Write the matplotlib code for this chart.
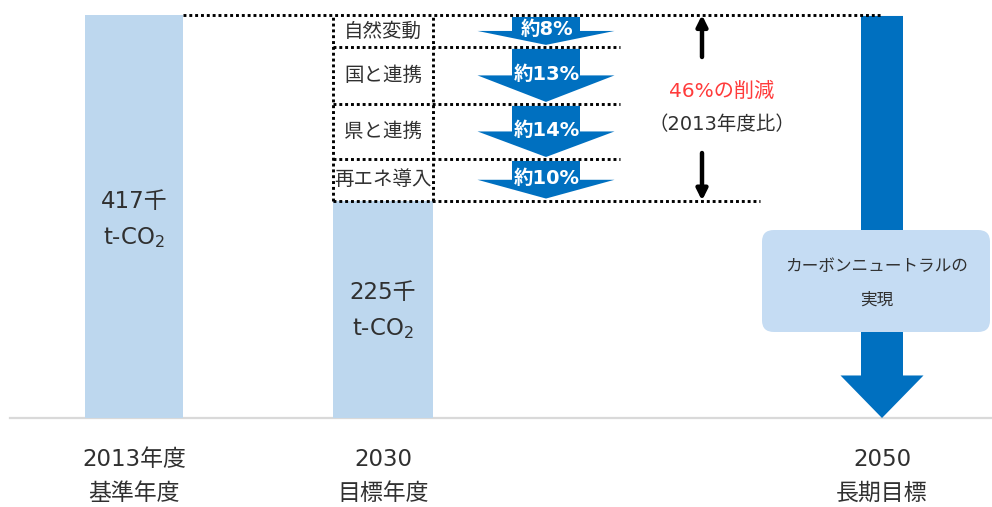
import numpy as np
import matplotlib.pyplot as plt
from matplotlib.patches import FancyArrow, FancyBboxPatch

plt.rcParams['font.family'] = ['DejaVu Sans', 'Noto Sans CJK JP']

# data (thousand t-CO2)
base_value = 417
target_value = 225
reductions = [33, 59, 57, 43]
box_labels = ['自然変動', '国と連携', '県と連携', '再エネ導入']
pct_labels = ['約8%', '約13%', '約14%', '約10%']
value_labels = ['417千\nt-CO$_2$', '225千\nt-CO$_2$']
year_labels = ['2013年度', '2030', '2050']
year_subs = ['基準年度', '目標年度', '長期目標']

light = '#bdd7ee'
blue = '#0070c0'
txt = '#303030'

# layout (x in pixels, y in data units)
x_pos = [134, 383, 882]
k = 403 / base_value          # px per unit
def v(py):
    return (418 - py) / k

fig = plt.figure(figsize=(9.92, 5.07), dpi=100)
ax = fig.add_axes([0, 0, 1, 1])
ax.set_xlim(0, 992)
ax.set_ylim(v(507), v(0))
ax.axis('off')

# baseline
ax.plot([10, 992], [0, 0], color='#d9d9d9', lw=1.6, zorder=1)

# bars
ax.bar(x_pos[0], base_value, width=98, color=light, zorder=2)
ax.bar(x_pos[1], target_value, width=100, color=light, zorder=2)

# reduction segments
tops = base_value - np.concatenate([[0], np.cumsum(reductions)[:-1]])
bottoms = base_value - np.cumsum(reductions)
dot = dict(color='black', lw=2.1, linestyle=(0, (1, 1)), zorder=4)
ax.plot([183, 882], [base_value, base_value], **dot)
ax.plot([333, 760], [bottoms[-1], bottoms[-1]], **dot)
for b in bottoms[:-1]:
    ax.plot([333, 620], [b, b], **dot)
ax.plot([333, 333], [bottoms[-1], base_value], **dot)
ax.plot([433, 433], [bottoms[-1], base_value], **dot)

for t, b, bl, pl in zip(tops, bottoms, box_labels, pct_labels):
    length = (t - b) - 4 / k
    arr = FancyArrow(546, t - 2 / k, 0, -length, width=68, head_width=137,
                     head_length=length * 0.5, length_includes_head=True,
                     color=blue, lw=0, zorder=3)
    ax.add_patch(arr)
    mid = (t + b) / 2
    ax.text(383, mid, bl, ha='center', va='center', fontsize=14, color=txt, zorder=5)
    ax.text(547, mid + 1, pl, ha='center', va='center', fontsize=14,
            fontweight='bold', color='white', zorder=5)

# 46% reduction note
arrowkw = dict(arrowstyle='-|>', lw=3.2, color='black', mutation_scale=16, shrinkA=0, shrinkB=0)
ax.annotate('', xy=(702, base_value), xytext=(702, v(57)), arrowprops=arrowkw)
ax.annotate('', xy=(702, bottoms[-1]), xytext=(702, v(153)), arrowprops=arrowkw)
ax.text(722, v(91), '46%の削減', ha='center', va='center', fontsize=14.5, color='#ff3b3b')
ax.text(722, v(124), '（2013年度比）', ha='center', va='center', fontsize=14, color=txt)

# 2050 arrow
ax.add_patch(FancyArrow(x_pos[2], base_value - 1, 0, -(base_value - 1), width=42,
                        head_width=83, head_length=44, length_includes_head=True,
                        color=blue, lw=0, zorder=3))
ax.add_patch(FancyBboxPatch((762, v(332)), 228, v(230) - v(332),
                            boxstyle='round,pad=0,rounding_size=12',
                            facecolor='#c5dcf3', edgecolor='none', zorder=4))
ax.text(877, v(266), 'カーボンニュートラルの', ha='center', va='center', fontsize=12, color=txt, zorder=5)
ax.text(877, v(300), '実現', ha='center', va='center', fontsize=12, color=txt, zorder=5)

# value labels
ax.text(x_pos[0], v(220), value_labels[0], ha='center', va='center', fontsize=16.5,
        color=txt, linespacing=1.6, zorder=5)
ax.text(x_pos[1], v(311), value_labels[1], ha='center', va='center', fontsize=16.5,
        color=txt, linespacing=1.6, zorder=5)

# year labels
for x, y1, y2 in zip(x_pos, year_labels, year_subs):
    ax.text(x, v(459), y1, ha='center', va='center', fontsize=16.5, color=txt)
    ax.text(x, v(493), y2, ha='center', va='center', fontsize=16.5, color=txt)

fig.savefig('out.png', dpi=100)
